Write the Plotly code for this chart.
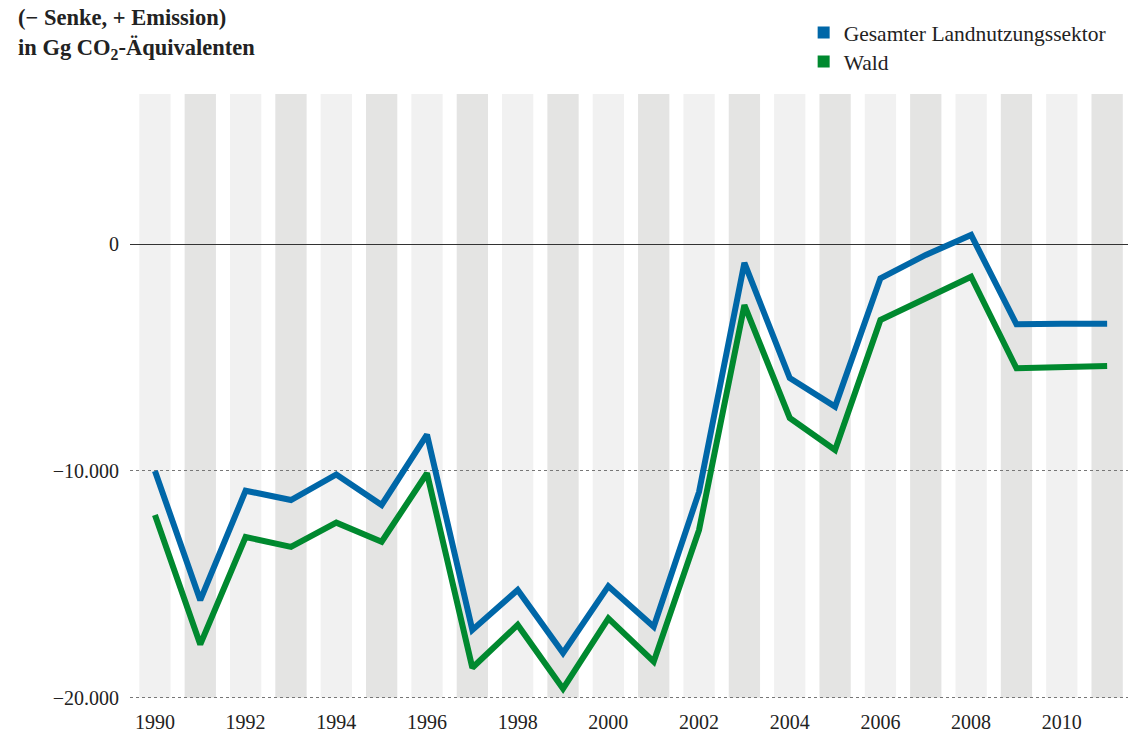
import plotly.graph_objects as go

years = list(range(1990, 2012))
gesamt = [-10000, -15700, -10870, -11280, -10150, -11500, -8400, -17010, -15250, -18030,
          -15080, -16870, -10920, -820, -5900, -7160, -1500, -470, 410, -3530, -3510, -3500]
wald = [-11940, -17650, -12910, -13350, -12280, -13120, -10100, -18680, -16790, -19600,
        -16500, -18410, -12600, -2680, -7660, -9070, -3340, -2380, -1430, -5470, -5420, -5370]

xtick_vals = list(range(1990, 2011, 2))
ytick_vals = [-20000, -10000, 0]
ytick_text = ["\u221220.000", "\u221210.000", "0"]

BLUE = "#0067a8"
GREEN = "#00892f"
FONT = "Liberation Serif"
Y_TOP = 6630
Y_BOT = -20000
Y_MIN = -20146

fig = go.Figure()

# background stripes, one per year
shapes = []
for i, yr in enumerate(years):
    shapes.append(dict(type="rect", xref="x", yref="y", x0=yr - 0.345, x1=yr + 0.345,
                       y0=Y_BOT, y1=Y_TOP, fillcolor="#f1f1f1" if i % 2 == 0 else "#e4e4e3",
                       line=dict(width=0), layer="below"))

fig.add_trace(go.Scatter(x=years, y=gesamt, mode="lines", line=dict(color=BLUE, width=6),
                         showlegend=False, name="Gesamter Landnutzungssektor"))
fig.add_trace(go.Scatter(x=years, y=wald, mode="lines", line=dict(color=GREEN, width=6),
                         showlegend=False, name="Wald"))
# legend entries with square markers
fig.add_trace(go.Scatter(x=[None], y=[None], mode="markers", name="Gesamter Landnutzungssektor",
                         marker=dict(symbol="square", size=12, color=BLUE), legend="legend"))
fig.add_trace(go.Scatter(x=[None], y=[None], mode="markers", name="Wald",
                         marker=dict(symbol="square", size=12, color=GREEN), legend="legend2"))

PH = 607  # plot height in px (94 .. 701)


def py(px):
    return (701 - px) / PH


leg_common = dict(x=0.675, xanchor="left", yanchor="top",
                  font=dict(family=FONT, size=21.5, color="#222"),
                  bgcolor="rgba(0,0,0,0)", itemwidth=30)

fig.update_layout(
    width=1128, height=740,
    margin=dict(l=130, r=0, t=94, b=39, autoexpand=False),
    paper_bgcolor="white", plot_bgcolor="white",
    font=dict(family=FONT, size=20, color="#222"),
    shapes=shapes,
    showlegend=True,
    legend=dict(y=py(12), **leg_common),
    legend2=dict(y=py(41), **leg_common),
    xaxis=dict(range=[1989.45, 2011.46], tickvals=xtick_vals, ticks="", showgrid=False,
               zeroline=False, showline=False, ticklabelstandoff=7,
               tickfont=dict(family=FONT, size=20, color="#222")),
    yaxis=dict(range=[Y_MIN, Y_TOP], tickvals=ytick_vals, ticktext=ytick_text, ticks="",
               showgrid=True, gridcolor="#777", griddash="dot", gridwidth=1,
               zeroline=True, zerolinecolor="#333", zerolinewidth=1, ticklabelstandoff=10,
               tickfont=dict(family=FONT, size=20, color="#222")),
    annotations=[
        dict(text="<b>(\u2212 Senke, + Emission)</b>",
             xref="paper", yref="paper", x=-130 / 998, y=py(18), xanchor="left", yanchor="middle",
             align="left", showarrow=False, xshift=16,
             font=dict(family=FONT, size=22.5, color="#222")),
        dict(text="<b>in Gg CO<sub>2</sub>-\u00c4quivalenten</b>",
             xref="paper", yref="paper", x=-130 / 998, y=py(49), xanchor="left", yanchor="middle",
             align="left", showarrow=False, xshift=16,
             font=dict(family=FONT, size=22.5, color="#222")),
    ],
)

fig.write_html("out.html", config={"displayModeBar": False},
               post_script="document.body.style.margin='0px';")
